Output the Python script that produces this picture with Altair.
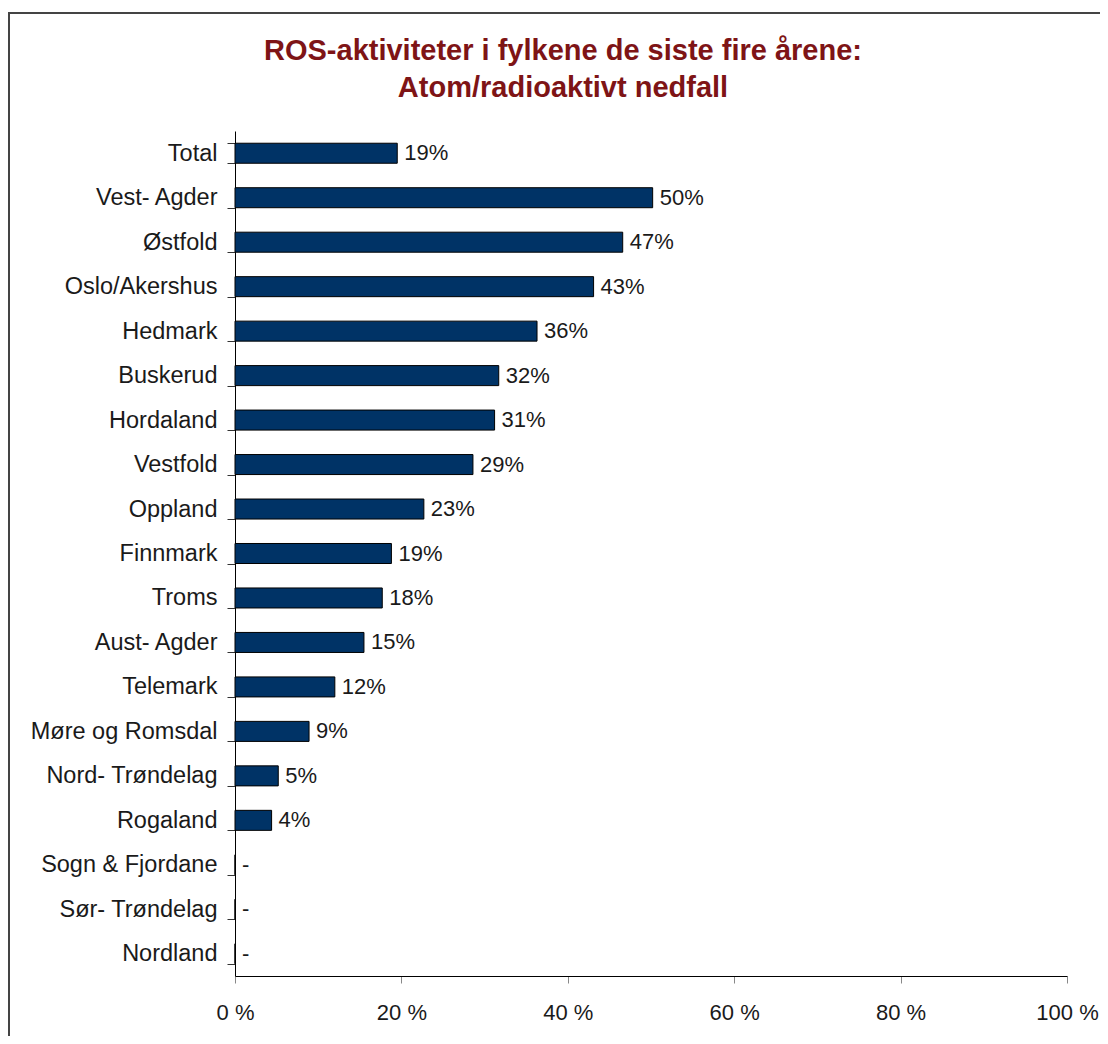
import altair as alt
import pandas as pd

categories = ["Total", "Vest- Agder", "Østfold", "Oslo/Akershus", "Hedmark", "Buskerud",
              "Hordaland", "Vestfold", "Oppland", "Finnmark", "Troms", "Aust- Agder",
              "Telemark", "Møre og Romsdal", "Nord- Trøndelag", "Rogaland",
              "Sogn & Fjordane", "Sør- Trøndelag", "Nordland"]
values = [19.5, 50.2, 46.6, 43.1, 36.3, 31.7, 31.2, 28.6, 22.7, 18.8, 17.7, 15.5,
          12.0, 8.9, 5.2, 4.4, 0, 0, 0]
value_labels = ["19%", "50%", "47%", "43%", "36%", "32%", "31%", "29%", "23%", "19%",
                "18%", "15%", "12%", "9%", "5%", "4%", "-", "-", "-"]
x_ticks = [0, 20, 40, 60, 80, 100]
title_lines = ["ROS-aktiviteter i fylkene de siste fire årene:", "Atom/radioaktivt nedfall"]

df = pd.DataFrame({"cat": categories, "val": values, "lab": value_labels})

FONT = "Liberation Sans"

y_enc = alt.Y("cat:N", sort=categories, title=None,
              scale=alt.Scale(paddingInner=0.55, paddingOuter=0.275),
              axis=alt.Axis(tickBand="extent", tickSize=8, tickColor="#333333",
                            domainColor="#000000", labelFontSize=23.5, labelPadding=10,
                            labelLimit=300, labelColor="#1a1a1a", labelFont=FONT))
x_enc = alt.X("val:Q", title=None,
              scale=alt.Scale(domain=[0, 100], nice=False),
              axis=alt.Axis(values=x_ticks, grid=False, tickSize=7, tickColor="#888888",
                            domainColor="#000000", labelFontSize=22, labelPadding=19,
                            labelFlush=False, labelOverlap=False,
                            labelColor="#1a1a1a", labelFont=FONT,
                            labelExpr="datum.value + ' %'"))

bars = alt.Chart(df).mark_bar(color="#003366", stroke="#000000", strokeWidth=1).encode(
    x=x_enc, y=y_enc)

texts = alt.Chart(df).mark_text(align="left", baseline="middle", dx=7, fontSize=22,
                                font=FONT, color="#1a1a1a").encode(
    x=alt.X("val:Q"), y=alt.Y("cat:N", sort=categories), text="lab:N")

border_df = pd.DataFrame({"b": [1]})
border_left = alt.Chart(border_df).mark_rule(stroke="#444444", strokeWidth=2).encode(
    x=alt.value(-226), y=alt.value(-118), y2=alt.value(905))
border_top = alt.Chart(border_df).mark_rule(stroke="#444444", strokeWidth=2).encode(
    x=alt.value(-227), x2=alt.value(865), y=alt.value(-118))

chart = alt.layer(border_left, border_top, bars, texts).properties(
    width=832, height=845,
    autosize=alt.AutoSizeParams(type="none"),
    padding={"left": 227, "top": 123, "right": 33, "bottom": 60},
    title=alt.TitleParams(text=title_lines, fontSize=29, font=FONT, fontWeight="bold",
                          color="#7E1416", lineHeight=37, anchor="middle", frame="group",
                          dx=-88, offset=-91),
).configure_view(stroke=None)

chart.save("out.html", embed_options={"renderer": "svg", "actions": False})
